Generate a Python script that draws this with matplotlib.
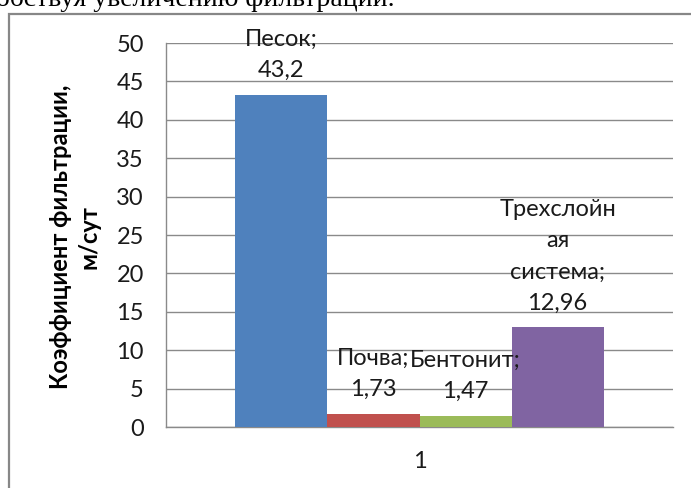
# -*- coding: utf-8 -*-
# Filtration coefficient bar chart (Excel-style clustered columns)

import numpy as np
import matplotlib
matplotlib.use("Agg")
import matplotlib.pyplot as plt
from matplotlib.patches import Rectangle

# %% data
categories = ['1']
materials = ['Песок;', 'Почва;', 'Бентонит;', 'Трехслойн\nая\nсистема;']
values = [43.2, 1.73, 1.47, 12.96]
colors = ['#4F81BD', '#C0504D', '#9BBB59', '#8064A2']
y_ticks = np.arange(0, 51, 5)

plt.rcParams['font.family'] = ['Lato', 'DejaVu Sans']
FS = 17

# %% figure
fig = plt.figure(figsize=(6.91, 4.88), dpi=100)
ax = fig.add_axes([166 / 691, 1 - 427 / 488, 507 / 691, 384 / 488])

# bars
w = 0.1815
for i, (name, v, c) in enumerate(zip(materials, values, colors)):
    x = (i - 1.5) * w
    ax.bar(x, v, width=w, color=c, zorder=3)
    ax.annotate(name + '\n' + f"{v:g}".replace('.', ','),
                xy=(x, v), xytext=(0, 10), textcoords='offset points',
                ha='center', va='bottom', fontsize=FS,
                linespacing=1.6, color='#1a1a1a', zorder=4)

# axes decoration
ax.set_xlim(-0.5, 0.5)
ax.set_ylim(0, 50)
ax.set_yticks(y_ticks)
ax.set_xticks([0])
ax.set_xticklabels(categories)
ax.tick_params(axis='both', length=0, labelsize=FS, colors='#1a1a1a')
ax.tick_params(axis='y', pad=16)
ax.tick_params(axis='x', pad=17)
ax.yaxis.grid(True, color='#8a8a8a', linewidth=1.0)
ax.set_axisbelow(True)
for s in ['top', 'right']:
    ax.spines[s].set_visible(False)
for s in ['left', 'bottom']:
    ax.spines[s].set_color('#8a8a8a')
    ax.spines[s].set_linewidth(1.0)

# y label
fig.text(75 / 691, 1 - 237 / 488, 'Коэффициент фильтрации,\nм/сут',
         rotation=90, ha='center', va='center', multialignment='center',
         fontsize=FS, fontweight='bold', linespacing=1.27)

# outer chart border
fig.patches.append(Rectangle((8.5 / 691, -0.1), 1.0, 1.1 - 14 / 488,
                             transform=fig.transFigure, fill=False,
                             edgecolor='#878787', linewidth=1.6))

# document text cut off above the chart
fig.text(395 / 691, 1 - 6 / 488, 'способствуя увеличению фильтрации.',
         ha='right', va='baseline', fontsize=20,
         family='Liberation Serif', color='black')

fig.savefig('out.png', dpi=100)
